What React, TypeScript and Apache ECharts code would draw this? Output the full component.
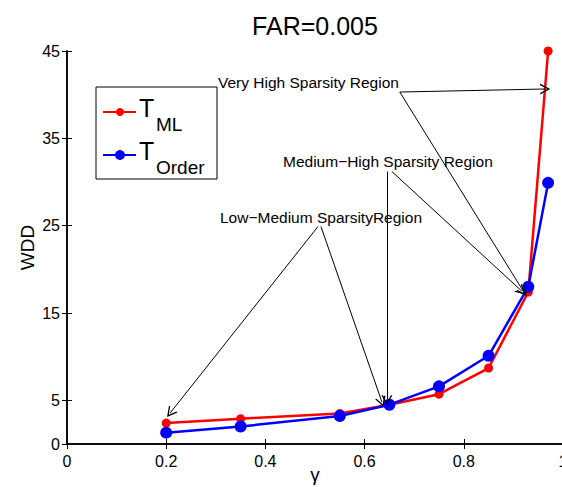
import React, { useEffect, useRef } from "react";
import * as echarts from "echarts";

const gammas = [0.2, 0.35, 0.55, 0.65, 0.75, 0.85, 0.93, 0.97];
const tML = [2.4, 2.9, 3.5, 4.5, 5.7, 8.7, 17.4, 45];
const tOrder = [1.3, 2.0, 3.2, 4.5, 6.6, 10.1, 18.0, 29.9];
const yTicks = [0, 5, 15, 25, 35, 45];
const seriesNames = ["ML", "Order"];
const seriesColors = ["#ff0000", "#0000ff"];

// annotation arrows: [startX, startY, endX, endY] in data coords
const arrows = [
  [0.671, 40.3, 0.964, 40.65],
  [0.671, 40.3, 0.921, 17.4],
  [0.645, 31.2, 0.645, 5.0],
  [0.655, 31.2, 0.917, 17.5],
  [0.506, 24.9, 0.208, 3.55],
  [0.512, 24.9, 0.635, 4.8],
];
const annotations = [
  { text: "Very High Sparsity Region", x: 218, y: 82 },
  { text: "Medium\u2212High Sparsity Region", x: 283, y: 161 },
  { text: "Low\u2212Medium SparsityRegion", x: 220, y: 217 },
];

const FONT = "Liberation Sans, Arial, Helvetica, sans-serif";
const OPEN_ARROW = "path://M5,0 L10,10 L8.6,10 L5,2.8 L1.4,10 L0,10 Z";

export default function App() {
  const ref = useRef<HTMLDivElement>(null);
  useEffect(() => {
    if (!ref.current) return;
    const chart = echarts.init(ref.current, null, { renderer: "svg" });
    const mk = (vals: number[]) => gammas.map((g, i) => [g, vals[i]]);
    const legendY = [112, 155];
    const legendGraphics: any[] = [
      {
        type: "rect",
        shape: { x: 96, y: 87, width: 121, height: 92 },
        style: { fill: "#fff", stroke: "#000", lineWidth: 1 },
        z: 100,
      },
    ];
    seriesNames.forEach((n, i) => {
      legendGraphics.push(
        {
          type: "line",
          shape: { x1: 103, y1: legendY[i], x2: 136, y2: legendY[i] },
          style: { stroke: seriesColors[i], lineWidth: 2 },
          z: 101,
        },
        {
          type: "circle",
          shape: { cx: 120, cy: legendY[i], r: i === 0 ? 4 : 5 },
          style: { fill: seriesColors[i] },
          z: 101,
        },
        {
          type: "text",
          x: 139,
          y: legendY[i] + 8,
          style: {
            text: "T",
            font: `25px ${FONT}`,
            fill: "#000",
            textVerticalAlign: "bottom",
          },
          z: 101,
        },
        {
          type: "text",
          x: 156,
          y: legendY[i] + 22,
          style: {
            text: n,
            font: `19px ${FONT}`,
            fill: "#000",
            textVerticalAlign: "bottom",
          },
          z: 101,
        }
      );
    });

    chart.setOption({
      animation: false,
      grid: { left: 67, top: 51, width: 496, height: 393, outerBoundsMode: "none", containLabel: false },
      xAxis: [
        {
          type: "value",
          min: 0,
          max: 1,
          interval: 0.2,
          name: "\u03b3",
          nameLocation: "middle",
          nameGap: 21,
          nameMoveOverlap: false,
          nameTextStyle: { fontSize: 19, color: "#000", fontFamily: FONT },
          axisLine: { lineStyle: { color: "#000", width: 1.5 } },
          axisTick: { inside: true, length: 5, lineStyle: { color: "#000" } },
          axisLabel: {
            fontSize: 16,
            color: "#000",
            fontFamily: FONT,
            margin: 9,
            formatter: (v: number) => (v === 0 || v === 1 ? String(v) : v.toFixed(1)),
          },
          splitLine: { show: false },
        },
        {
          type: "value",
          position: "top",
          min: 0,
          max: 1,
          interval: 0.2,
          axisLine: { lineStyle: { color: "#000", width: 1.5 } },
          axisTick: { inside: true, length: 5, lineStyle: { color: "#000" } },
          axisLabel: { show: false },
          splitLine: { show: false },
        },
      ],
      yAxis: [
        {
          type: "value",
          min: 0,
          max: 45,
          name: "WDD",
          nameLocation: "middle",
          nameGap: 30,
          nameMoveOverlap: false,
          nameTextStyle: { fontSize: 19, color: "#000", fontFamily: FONT },
          axisLine: { lineStyle: { color: "#000", width: 1.5 } },
          axisTick: {
            inside: true,
            length: 5,
            customValues: yTicks,
            lineStyle: { color: "#000" },
          },
          axisLabel: {
            fontSize: 16,
            color: "#000",
            fontFamily: FONT,
            margin: 7,
            customValues: yTicks,
          },
          splitLine: { show: false },
        },
        {
          type: "value",
          position: "right",
          min: 0,
          max: 45,
          axisLine: { lineStyle: { color: "#000", width: 1.5 } },
          axisTick: {
            inside: true,
            length: 5,
            customValues: yTicks,
            lineStyle: { color: "#000" },
          },
          axisLabel: { show: false, customValues: yTicks },
          splitLine: { show: false },
        },
      ],
      series: [
        {
          name: "T_ML",
          type: "line",
          data: mk(tML),
          clip: false,
          symbol: "circle",
          symbolSize: 9,
          itemStyle: { color: seriesColors[0] },
          lineStyle: { color: seriesColors[0], width: 2.5 },
          z: 3,
          markLine: {
            silent: true,
            symbol: ["none", OPEN_ARROW],
            symbolSize: [11, 10],
            label: { show: false },
            itemStyle: { color: "#000" },
            lineStyle: { color: "#000", width: 1, type: "solid" },
            data: arrows.map((a) => [
              { coord: [a[0], a[1]] },
              { coord: [a[2], a[3]] },
            ]),
          },
        },
        {
          name: "T_Order",
          type: "line",
          data: mk(tOrder),
          clip: false,
          symbol: "circle",
          symbolSize: 12,
          itemStyle: { color: seriesColors[1] },
          lineStyle: { color: seriesColors[1], width: 2.5 },
          z: 4,
        },
      ],
      graphic: [
        {
          type: "text",
          x: 315,
          y: 26,
          style: {
            text: "FAR=0.005",
            font: `25px ${FONT}`,
            fill: "#000",
            textAlign: "center",
            textVerticalAlign: "middle",
          },
        },
        ...annotations.map((a) => ({
          type: "text",
          x: a.x,
          y: a.y,
          style: {
            text: a.text,
            font: `15.5px ${FONT}`,
            fill: "#000",
            textVerticalAlign: "middle",
          },
          z: 50,
        })),
        ...legendGraphics,
      ],
    });
    return () => chart.dispose();
  }, []);
  return (
    <div
      ref={ref}
      style={{ position: "fixed", left: 0, top: 0, width: 562, height: 487, background: "#fff" }}
    />
  );
}
